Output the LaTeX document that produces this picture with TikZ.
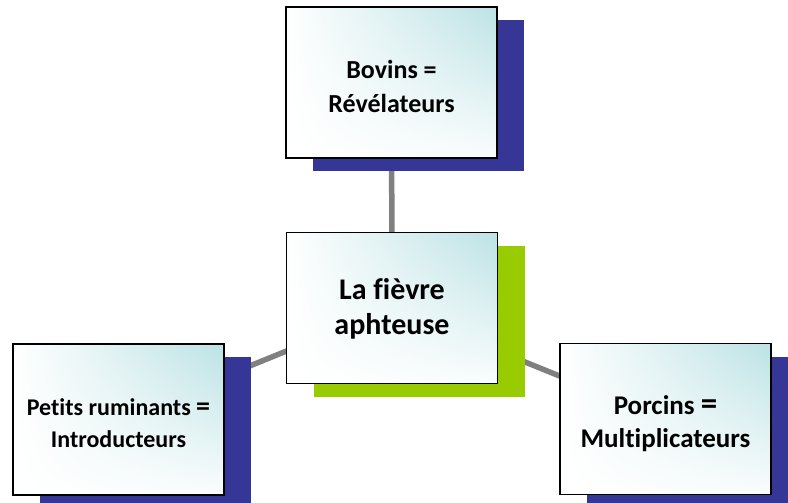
\documentclass[tikz,border=0pt]{standalone}
\usepackage{fontspec}
\setmainfont{Carlito}[Ligatures=NoCommon]
\usetikzlibrary{shadows,shadings,backgrounds}
\definecolor{shblue}{RGB}{54,54,150}
\definecolor{shgreen}{RGB}{153,204,0}
\definecolor{tealfill}{RGB}{188,226,229}
\definecolor{linkgray}{RGB}{128,128,128}
\tikzset{
  box/.style={draw=black, line width=1.6pt, minimum width=211pt, minimum height=151pt,
    inner sep=0pt, upper right=tealfill, upper left=white, lower left=white, lower right=white!92!tealfill},
  blueshadow/.style={general shadow={fill=shblue, shadow xshift=27pt, shadow yshift=-13pt}},
  greenshadow/.style={general shadow={fill=shgreen, shadow xshift=27pt, shadow yshift=-13pt}},
  txt/.style={align=center, inner sep=0pt},
  link/.style={draw=linkgray, line width=5.5pt}
}
\begin{document}
\begin{tikzpicture}[x=1pt, y=-1pt]
\useasboundingbox (0,0) rectangle (788,503);
\clip (0,0) rectangle (788,503);
\node[box, blueshadow] (top) at (391.5,82.5) {};
\node[box, greenshadow] (ctr) at (392,308) {};
\node[box, blueshadow] (left) at (118.5,419.5) {};
\node[box, blueshadow] (right) at (665.5,419) {};
\begin{scope}[on background layer]
\draw[link] (top.center) -- (ctr.center);
\draw[link] (left.center) -- (ctr.center);
\draw[link] (right.center) -- (ctr.center);
\end{scope}
\node[txt, font=\bfseries\fontsize{26}{34}\selectfont] (topt) at ([yshift=-4pt]top.center) {Bovins =\\Révélateurs};
\node[txt, font=\bfseries\fontsize{30}{35}\selectfont] (ctrt) at ([yshift=-1pt]ctr.center) {La fièvre\\aphteuse};
\node[txt, font=\bfseries\fontsize{24}{32}\selectfont] (leftt) at ([yshift=-4pt]left.center) {Petits ruminants {\fontsize{28}{28}\selectfont=}\\Introducteurs};
\node[txt, font=\bfseries\fontsize{27}{33}\selectfont] (rightt) at ([yshift=-5pt]right.center) {Porcins {\fontsize{33}{33}\selectfont=}\\Multiplicateurs};
\end{tikzpicture}
\end{document}
